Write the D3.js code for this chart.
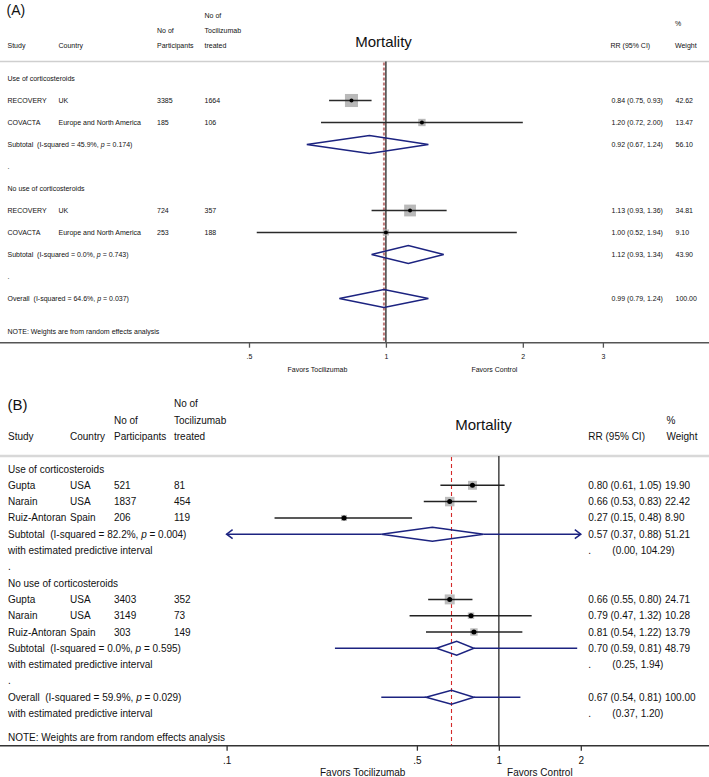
<!DOCTYPE html>
<html><head><meta charset="utf-8">
<script src="https://cdn.jsdelivr.net/npm/d3@7"></script>
<style>
body{margin:0;background:#fff}
svg{display:block}
text{font-family:"Liberation Sans",Arial,Helvetica,sans-serif;fill:#111;white-space:pre}
</style>
</head><body>
<svg id="chart" width="709" height="777"></svg>
<script>
// ---------- Panel A data ----------
const groupsA = ["Use of corticosteroids", "No use of corticosteroids"];
const groupSizesA = [2, 2];
const studiesA = ["RECOVERY", "COVACTA", "RECOVERY", "COVACTA"];
const countriesA = ["UK", "Europe and North America", "UK", "Europe and North America"];
const participantsA = [3385, 185, 724, 253];
const treatedA = [1664, 106, 357, 188];
const rrA = [0.84, 1.20, 1.13, 1.00];
const lowA = [0.75, 0.72, 0.93, 0.52];
const highA = [0.93, 2.00, 1.36, 1.94];
const weightA = [42.62, 13.47, 34.81, 9.10];
const pooledLabelA = ["Subtotal", "Subtotal", "Overall"];
const pooledI2A = ["45.9%", "0.0%", "64.6%"];
const pooledPA = ["0.174", "0.743", "0.037"];
const pooledRrA = [0.92, 1.12, 0.99];
const pooledLowA = [0.67, 0.93, 0.79];
const pooledHighA = [1.24, 1.34, 1.24];
const pooledWeightA = [56.10, 43.90, 100.00];
const ticksA = [0.5, 1, 2, 3];
const tickLabelsA = [".5", "1", "2", "3"];

// ---------- Panel B data ----------
const groupsB = ["Use of corticosteroids", "No use of corticosteroids"];
const groupSizesB = [3, 3];
const studiesB = ["Gupta", "Narain", "Ruiz-Antoran", "Gupta", "Narain", "Ruiz-Antoran"];
const countriesB = ["USA", "USA", "Spain", "USA", "USA", "Spain"];
const participantsB = [521, 1837, 206, 3403, 3149, 303];
const treatedB = [81, 454, 119, 352, 73, 149];
const rrB = [0.80, 0.66, 0.27, 0.66, 0.79, 0.81];
const lowB = [0.61, 0.53, 0.15, 0.55, 0.47, 0.54];
const highB = [1.05, 0.83, 0.48, 0.80, 1.32, 1.22];
const weightB = [19.90, 22.42, 8.90, 24.71, 10.28, 13.79];
const pooledLabelB = ["Subtotal", "Subtotal", "Overall"];
const pooledI2B = ["82.2%", "0.0%", "59.9%"];
const pooledPB = ["0.004", "0.595", "0.029"];
const pooledRrB = [0.57, 0.70, 0.67];
const pooledLowB = [0.37, 0.59, 0.54];
const pooledHighB = [0.88, 0.81, 0.81];
const pooledWeightB = [51.21, 48.79, 100.00];
const predLowB = [0.00, 0.25, 0.37];
const predHighB = [104.29, 1.94, 1.20];
const ticksB = [0.1, 0.5, 1, 2];
const tickLabelsB = [".1", ".5", "1", "2"];

const svg = d3.select("#chart");
const f2 = d3.format(".2f");

function buildRows(D) {
  const rows = []; let s = 0;
  D.groups.forEach((g, gi) => {
    rows.push({type: "group", label: g});
    for (let k = 0; k < D.groupSizes[gi]; k++, s++) rows.push({type: "study", i: s});
    rows.push({type: "pooled", i: gi});
    if (D.predLow) rows.push({type: "pred", i: gi});
    rows.push({type: "dot"});
  });
  const oi = D.groups.length;
  rows.push({type: "pooled", i: oi});
  if (D.predLow) rows.push({type: "pred", i: oi});
  return rows;
}

function drawPanel(P, D) {
  const g = svg.append("g");
  const x = d3.scaleLog().domain(P.domain).range(P.range);
  const yRow = i => P.y0 + P.dy * i;
  const fs = P.fs;
  const txt = (t, xx, yy, opts = {}) => g.append("text").attr("x", xx).attr("y", yy)
      .attr("dy", "0.35em").attr("font-size", opts.fs || fs)
      .attr("text-anchor", opts.anchor || "start").text(t);

  // panel label
  g.append("text").attr("x", P.labelX).attr("y", P.labelY).attr("font-size", P.labelFs).text(P.label);

  // headers
  txt("No of", P.cTreat, P.h1);
  txt("No of", P.cPart, P.h2);
  txt("Tocilizumab", P.cTreat, P.h2);
  txt("Study", P.cStudy, P.h3);
  txt("Country", P.cCountry, P.h3);
  txt("Participants", P.cPart, P.h3);
  txt("treated", P.cTreat, P.h3);
  txt("%", P.cW, P.hPct);
  txt("RR (95% CI)", P.cRRh, P.h3);
  txt("Weight", P.cW, P.h3);
  txt("Mortality", P.titleX, P.titleY, {fs: P.titleFs, anchor: "middle"});

  // header rule
  g.append("line").attr("x1", 0).attr("x2", 709).attr("y1", P.ruleY).attr("y2", P.ruleY)
    .attr("stroke", P.ruleColor).attr("stroke-width", P.ruleW);

  // reference lines
  g.append("line").attr("x1", x(1)).attr("x2", x(1)).attr("y1", P.ruleY).attr("y2", P.axisY)
    .attr("stroke", P.nullColor).attr("stroke-width", P.nullW);
  const ov = D.pooledRr[D.pooledRr.length - 1];
  g.append("line").attr("x1", x(ov)).attr("x2", x(ov)).attr("y1", P.ruleY + 1).attr("y2", P.axisY)
    .attr("stroke", P.dashColor).attr("stroke-width", P.dashW).attr("stroke-dasharray", P.dashArr);

  const rows = buildRows(D);
  const clip = v => Math.max(P.domain[0], Math.min(P.domain[1], v));
  rows.forEach((r, ri) => {
    const y = yRow(ri);
    if (r.type === "group") {
      txt(r.label, P.cStudy, y);
    } else if (r.type === "dot") {
      txt(".", P.cStudy, y);
    } else if (r.type === "study") {
      const i = r.i;
      txt(D.studies[i], P.cStudy, y);
      txt(D.countries[i], P.cCountry, y);
      txt(String(D.participants[i]), P.cPart, y);
      txt(String(D.treated[i]), P.cTreat, y);
      txt(`${f2(D.rr[i])} (${f2(D.low[i])}, ${f2(D.high[i])})`, P.cRR, y);
      txt(f2(D.weight[i]), P.cWv, y);
      const side = P.boxK * Math.sqrt(D.weight[i]);
      g.append("rect").attr("x", x(D.rr[i]) - side / 2).attr("y", y - side / 2)
        .attr("width", side).attr("height", side).attr("fill", P.boxColor);
      g.append("line").attr("x1", x(clip(D.low[i]))).attr("x2", x(clip(D.high[i])))
        .attr("y1", y).attr("y2", y).attr("stroke", P.ciColor).attr("stroke-width", P.ciW);
      g.append("circle").attr("cx", x(D.rr[i])).attr("cy", y).attr("r", P.dotR).attr("fill", "#000");
    } else if (r.type === "pooled") {
      const i = r.i;
      const t = g.append("text").attr("x", P.cStudy).attr("y", y).attr("dy", "0.35em").attr("font-size", fs);
      t.append("tspan").text(`${D.pooledLabel[i]}  (I-squared = ${D.pooledI2[i]}, `);
      t.append("tspan").attr("font-style", "italic").text("p");
      t.append("tspan").text(` = ${D.pooledP[i]})`);
      txt(`${f2(D.pooledRr[i])} (${f2(D.pooledLow[i])}, ${f2(D.pooledHigh[i])})`, P.cRR, y);
      txt(f2(D.pooledWeight[i]), P.cWv, y);
      const xl = x(D.pooledLow[i]), xm = x(D.pooledRr[i]), xh = x(D.pooledHigh[i]);
      if (D.predLow) {
        const pl = D.predLow[i], ph = D.predHigh[i];
        const xpl = pl <= P.domain[0] ? x(P.domain[0]) : x(pl);
        const xph = ph >= P.domain[1] ? x(P.domain[1]) : x(ph);
        g.append("line").attr("x1", xpl).attr("x2", xl).attr("y1", y).attr("y2", y)
          .attr("stroke", P.diaColor).attr("stroke-width", P.diaW);
        g.append("line").attr("x1", xh).attr("x2", xph).attr("y1", y).attr("y2", y)
          .attr("stroke", P.diaColor).attr("stroke-width", P.diaW);
        if (pl <= P.domain[0]) g.append("path").attr("d", `M${xpl + 6},${y - 4.5}L${xpl},${y}L${xpl + 6},${y + 4.5}`)
          .attr("fill", "none").attr("stroke", P.diaColor).attr("stroke-width", P.diaW);
        if (ph >= P.domain[1]) g.append("path").attr("d", `M${xph - 6},${y - 4.5}L${xph},${y}L${xph - 6},${y + 4.5}`)
          .attr("fill", "none").attr("stroke", P.diaColor).attr("stroke-width", P.diaW);
      }
      g.append("path").attr("d", `M${xl},${y}L${xm},${y - P.diaH}L${xh},${y}L${xm},${y + P.diaH}Z`)
        .attr("fill", "none").attr("stroke", P.diaColor).attr("stroke-width", P.diaW);
    } else if (r.type === "pred") {
      const i = r.i;
      txt("with estimated predictive interval", P.cStudy, y);
      txt(".", P.cRR, y);
      txt(`(${f2(D.predLow[i])}, ${f2(D.predHigh[i])})`, P.cRR + P.predOff, y);
    }
  });

  txt("NOTE: Weights are from random effects analysis", P.cStudy, P.noteY);

  // axis
  g.append("line").attr("x1", 0).attr("x2", 709).attr("y1", P.axisY).attr("y2", P.axisY)
    .attr("stroke", P.axisColor).attr("stroke-width", 1.5);
  const ax = g.append("g").attr("transform", `translate(0,${P.axisY})`)
    .call(d3.axisBottom(x).tickValues(D.ticks).tickFormat((d, k) => D.tickLabels[k]).tickSize(P.tickLen).tickPadding(P.tickPad));
  ax.select(".domain").remove();
  ax.selectAll(".tick line").attr("stroke", P.axisColor).attr("stroke-width", 1.3);
  ax.selectAll(".tick text").attr("font-size", fs).attr("font-family", '"Liberation Sans",Arial,sans-serif').attr("fill", "#111");

  const mid = (a, b) => (a + b) / 2;
  txt("Favors Tocilizumab", mid(P.range[0], x(1)), P.favY, {anchor: "middle"});
  txt("Favors Control", mid(x(1), P.range[1]), P.favY, {anchor: "middle"});
}

drawPanel({
  label: "(A)", labelX: 6.5, labelY: 14.5, labelFs: 14,
  fs: 7, cStudy: 7.5, cCountry: 58.5, cPart: 157, cTreat: 204.5, cRR: 611.5, cRRh: 610.5, cW: 675, cWv: 675.5,
  h1: 15.7, h2: 31, h3: 46, hPct: 24, titleX: 383.5, titleY: 42, titleFs: 15,
  ruleY: 61.5, ruleColor: "#cfcfcf", ruleW: 1.5,
  y0: 78.5, dy: 22, noteY: 331.5, axisY: 342.7, tickLen: 5, tickPad: 6, favY: 370,
  domain: [0.5, 3], range: [249.0, 602.9],
  nullColor: "#222", nullW: 1.3, dashColor: "#c27a7a", dashW: 2, dashArr: "3,2",
  boxK: 2, boxColor: "#b9b9b9", ciColor: "#2a2a2a", ciW: 1.5, dotR: 2,
  diaColor: "#1c2380", diaW: 1.5, diaH: 9, axisColor: "#555", predOff: 24
}, {
  groups: groupsA, groupSizes: groupSizesA, studies: studiesA, countries: countriesA,
  participants: participantsA, treated: treatedA, rr: rrA, low: lowA, high: highA, weight: weightA,
  pooledLabel: pooledLabelA, pooledI2: pooledI2A, pooledP: pooledPA, pooledRr: pooledRrA,
  pooledLow: pooledLowA, pooledHigh: pooledHighA, pooledWeight: pooledWeightA,
  ticks: ticksA, tickLabels: tickLabelsA
});

drawPanel({
  label: "(B)", labelX: 7.5, labelY: 409.5, labelFs: 15,
  fs: 10, cStudy: 8, cCountry: 70, cPart: 114, cTreat: 174, cRR: 588.3, cRRh: 588.3, cW: 666.5, cWv: 665,
  h1: 403, h2: 420, h3: 436, hPct: 420, titleX: 483.5, titleY: 425, titleFs: 15,
  ruleY: 456, ruleColor: "#d8d8d8", ruleW: 2.5,
  y0: 469, dy: 16.3, noteY: 737.5, axisY: 745.7, tickLen: 5, tickPad: 6, favY: 772.7,
  domain: [0.1, 2], range: [226.6, 580.8],
  nullColor: "#444", nullW: 1.5, dashColor: "#d42a2a", dashW: 1.1, dashArr: "4,3",
  boxK: 2, boxColor: "#bdbdbd", ciColor: "#222", ciW: 1.5, dotR: 2.5,
  diaColor: "#1c2380", diaW: 1.5, diaH: 7, axisColor: "#333", predOff: 24
}, {
  groups: groupsB, groupSizes: groupSizesB, studies: studiesB, countries: countriesB,
  participants: participantsB, treated: treatedB, rr: rrB, low: lowB, high: highB, weight: weightB,
  pooledLabel: pooledLabelB, pooledI2: pooledI2B, pooledP: pooledPB, pooledRr: pooledRrB,
  pooledLow: pooledLowB, pooledHigh: pooledHighB, pooledWeight: pooledWeightB,
  predLow: predLowB, predHigh: predHighB,
  ticks: ticksB, tickLabels: tickLabelsB
});
</script>
</body></html>
